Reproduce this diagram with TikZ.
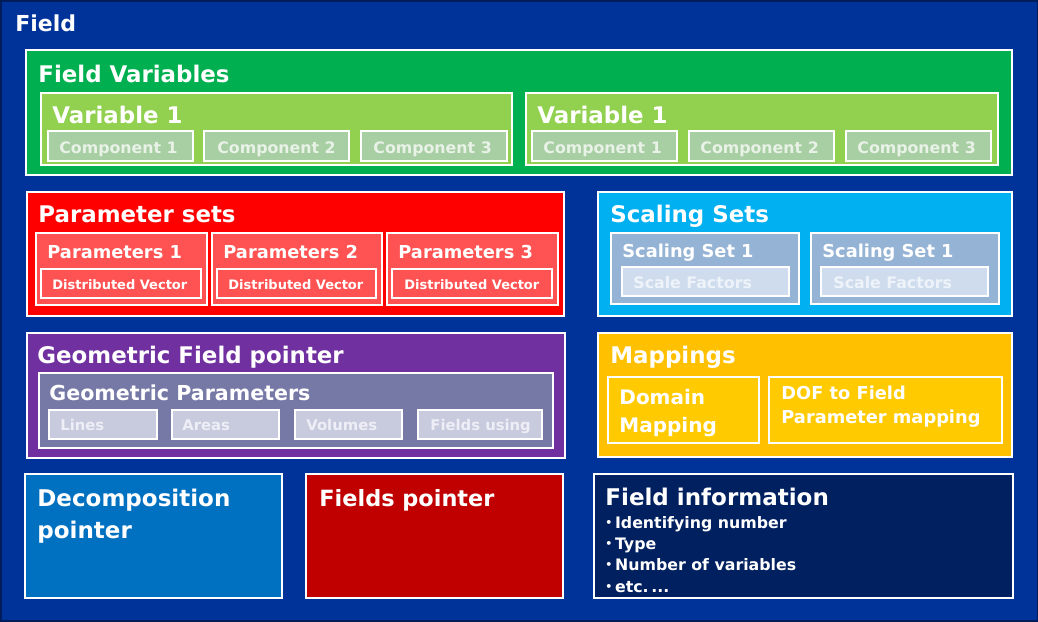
\documentclass[tikz,border=0pt]{standalone}
\usepackage{fontspec}
\setmainfont{DejaVu Sans}
\usetikzlibrary{positioning}
\definecolor{fieldblue}{RGB}{0,51,153}
\definecolor{frameblue}{RGB}{0,28,90}
\definecolor{fvgreen}{RGB}{0,176,80}
\definecolor{varlime}{RGB}{146,208,80}
\definecolor{compgray}{RGB}{168,206,164}
\definecolor{comptext}{RGB}{232,242,230}
\definecolor{psred}{RGB}{255,0,0}
\definecolor{parred}{RGB}{255,82,82}
\definecolor{scblue}{RGB}{0,176,240}
\definecolor{ssgray}{RGB}{149,179,212}
\definecolor{sfpale}{RGB}{206,220,238}
\definecolor{sftext}{RGB}{238,243,250}
\definecolor{geopurple}{RGB}{112,48,160}
\definecolor{gpslate}{RGB}{118,121,166}
\definecolor{gplav}{RGB}{200,202,222}
\definecolor{gltext}{RGB}{238,238,246}
\definecolor{mapamber}{RGB}{255,192,0}
\definecolor{mapinner}{RGB}{255,202,0}
\definecolor{decblue}{RGB}{0,112,192}
\definecolor{fpred}{RGB}{192,0,0}
\definecolor{finavy}{RGB}{0,32,96}

% block from (x1,y1) to (x2,y2), in pixels
\newcommand{\blk}[6]{\node[blk, #2, anchor=north west, minimum width={(#5-#3)*0.5pt}, minimum height={(#6-#4)*0.5pt}] (#1) at (#3,#4) {};}
\newcommand{\dotitem}{\raisebox{1pt}{\fontsize{5.5}{5}\selectfont\textbullet}\,}

\begin{document}
\begin{tikzpicture}[
  x=0.5pt, y=-0.5pt,
  blk/.style={rectangle, draw=white, line width=0.6pt, inner sep=0pt, outer sep=0pt},
  hd/.style={anchor=base west, inner sep=0pt, text=white, font=\fontsize{11.45}{13}\selectfont\bfseries},
  subhd/.style={anchor=base west, inner sep=0pt, text=white, font=\fontsize{8.9}{11}\selectfont\bfseries},
  lbl/.style={anchor=base west, inner sep=0pt, font=\fontsize{7.9}{10}\selectfont\bfseries},
  multi/.style={anchor=north west, inner sep=0pt, text=white, align=left}
]
\useasboundingbox (0,0) rectangle (1038,621);

% outer frame
\blk{field}{fill=fieldblue, draw=frameblue, line width=1.5pt}{0}{0}{1038}{621}
\node[hd, font=\fontsize{11}{13}\selectfont\bfseries] (fieldt) at (15,32) {Field};

% field variables
\blk{fv}{fill=fvgreen}{26}{50}{1012}{175}
\node[hd] (fvt) at (38,82) {Field Variables};
\blk{var1}{fill=varlime}{41}{93}{512}{165}
\blk{var2}{fill=varlime}{526}{93}{998}{165}
\node[hd] (var1t) at (52,123) {Variable 1};
\node[hd] (var2t) at (537,123) {Variable 1};
\blk{c11}{fill=compgray}{48}{131}{193}{161}
\blk{c12}{fill=compgray}{204}{131}{349}{161}
\blk{c13}{fill=compgray}{361}{131}{507}{161}
\blk{c21}{fill=compgray}{532}{131}{677}{161}
\blk{c22}{fill=compgray}{689}{131}{834}{161}
\blk{c23}{fill=compgray}{846}{131}{991}{161}
\node[lbl, text=comptext] (c11t) at (59,153) {Component 1};
\node[lbl, text=comptext] (c12t) at (217,153) {Component 2};
\node[lbl, text=comptext] (c13t) at (373,153) {Component 3};
\node[lbl, text=comptext] (c21t) at (543,153) {Component 1};
\node[lbl, text=comptext] (c22t) at (700,153) {Component 2};
\node[lbl, text=comptext] (c23t) at (857,153) {Component 3};

% parameter sets
\blk{ps}{fill=psred}{27}{192}{564}{316}
\node[hd] (pst) at (38,222) {Parameter sets};
\blk{p1}{fill=parred}{36}{233}{207}{305}
\blk{p2}{fill=parred}{212}{233}{382}{305}
\blk{p3}{fill=parred}{387}{233}{558}{305}
\node[subhd] (p1t) at (47,258) {Parameters 1};
\node[subhd] (p2t) at (223,258) {Parameters 2};
\node[subhd] (p3t) at (398,258) {Parameters 3};
\blk{dv1}{fill=parred}{41}{269}{201}{298}
\blk{dv2}{fill=parred}{217}{269}{376}{298}
\blk{dv3}{fill=parred}{392}{269}{552}{298}
\node[lbl, text=white, font=\fontsize{6.5}{9}\selectfont\bfseries] (dv1t) at (52,289) {Distributed Vector};
\node[lbl, text=white, font=\fontsize{6.5}{9}\selectfont\bfseries] (dv2t) at (228,289) {Distributed Vector};
\node[lbl, text=white, font=\fontsize{6.5}{9}\selectfont\bfseries] (dv3t) at (404,289) {Distributed Vector};

% scaling sets
\blk{ss}{fill=scblue}{598}{192}{1012}{316}
\node[hd] (sst) at (610,222) {Scaling Sets};
\blk{s1}{fill=ssgray}{611}{233}{799}{304}
\blk{s2}{fill=ssgray}{811}{233}{999}{304}
\node[subhd] (s1t) at (622,257) {Scaling Set 1};
\node[subhd] (s2t) at (822,257) {Scaling Set 1};
\blk{sf1}{fill=sfpale}{622}{267}{789}{296}
\blk{sf2}{fill=sfpale}{821}{267}{988}{296}
\node[lbl, text=sftext] (sf1t) at (633,288) {Scale Factors};
\node[lbl, text=sftext] (sf2t) at (833,288) {Scale Factors};

% geometric field pointer
\blk{gf}{fill=geopurple}{27}{333}{565}{458}
\node[hd] (gft) at (37,363) {Geometric Field pointer};
\blk{gp}{fill=gpslate}{39}{373}{553}{448}
\node[subhd, font=\fontsize{10.3}{12}\selectfont\bfseries] (gpt) at (49,400) {Geometric Parameters};
\blk{g1}{fill=gplav}{49}{410}{157}{439}
\blk{g2}{fill=gplav}{172}{410}{279}{439}
\blk{g3}{fill=gplav}{295}{410}{402}{439}
\blk{g4}{fill=gplav}{418}{410}{542}{439}
\node[lbl, text=gltext, font=\fontsize{7.4}{9}\selectfont\bfseries] (g1t) at (60,430) {Lines};
\node[lbl, text=gltext, font=\fontsize{7.4}{9}\selectfont\bfseries] (g2t) at (182,430) {Areas};
\node[lbl, text=gltext, font=\fontsize{7.4}{9}\selectfont\bfseries] (g3t) at (306,430) {Volumes};
\node[lbl, text=gltext, font=\fontsize{7.4}{9}\selectfont\bfseries] (g4t) at (430,430) {Fields using};

% mappings
\blk{mp}{fill=mapamber}{598}{333}{1012}{457}
\node[hd] (mpt) at (610,363) {Mappings};
\blk{dm}{fill=mapinner}{608}{377}{759}{443}
\blk{dof}{fill=mapinner}{769}{377}{1002}{443}
\node[multi, font=\fontsize{10}{14}\selectfont\bfseries] (dmt) at (619,389) {Domain\\Mapping};
\node[multi, font=\fontsize{8.9}{12}\selectfont\bfseries] (doft) at (781,386) {DOF to Field\\Parameter mapping};

% bottom row
\blk{dec}{fill=decblue}{25}{474}{282}{598}
\node[multi, font=\fontsize{11.5}{16}\selectfont\bfseries] (dect) at (37,489) {Decomposition\\pointer};
\blk{fp}{fill=fpred}{306}{474}{563}{598}
\node[hd, font=\fontsize{11.2}{13}\selectfont\bfseries] (fpt) at (319,506) {Fields pointer};
\blk{fi}{fill=finavy}{594}{474}{1013}{598}
\node[hd, font=\fontsize{11.5}{13}\selectfont\bfseries] (fit) at (605,505) {Field information};
\node[multi, font=\fontsize{7.9}{10.6}\selectfont\bfseries] (fil) at (605,516)
  {\dotitem Identifying number\\
   \dotitem Type\\
   \dotitem Number of variables\\
   \dotitem etc.\,...};

\end{tikzpicture}
\end{document}
